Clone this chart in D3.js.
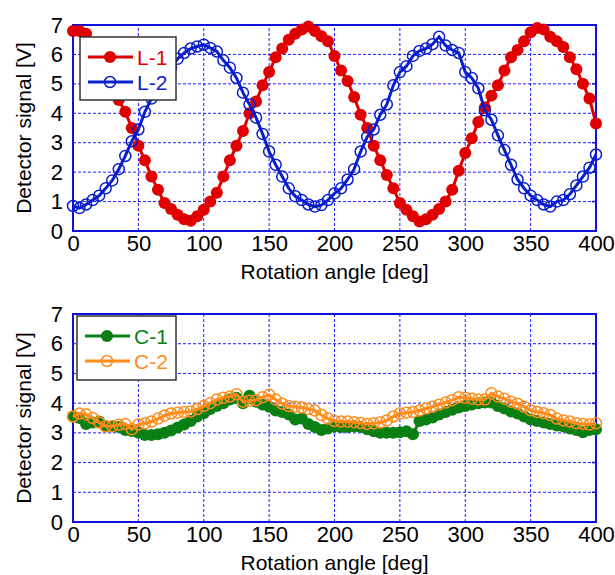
<!DOCTYPE html>
<html><head><meta charset="utf-8">
<script src="https://cdn.jsdelivr.net/npm/d3@7"></script>
<style>body{margin:0;background:#fff}svg{display:block}text{font-family:"Liberation Sans",Arial,sans-serif}</style>
</head><body>
<svg id="c" width="615" height="575"></svg>
<script>
const angles = d3.range(0, 401, 5);
const xTicks = [0,50,100,150,200,250,300,350,400];
const yTicks = [0,1,2,3,4,5,6,7];

const L1 = [6.8,6.8,6.7,6.4,6.0,5.5,5.0,4.45,4.05,3.5,2.9,2.4,1.85,1.4,0.95,0.75,0.55,0.4,0.35,0.5,0.72,1.0,1.3,1.85,2.4,2.9,3.4,4.0,4.4,4.95,5.4,5.9,6.2,6.5,6.7,6.85,6.95,6.8,6.62,6.45,5.95,5.45,5.1,4.55,3.95,3.5,2.9,2.4,1.9,1.45,0.95,0.72,0.5,0.32,0.4,0.55,0.75,1.0,1.4,2.05,2.65,3.15,3.7,4.2,4.6,4.95,5.45,5.9,6.15,6.45,6.75,6.9,6.85,6.6,6.45,6.25,5.9,5.5,5.0,4.5,3.65];
const L2 = [0.85,0.78,0.9,1.05,1.2,1.45,1.72,2.1,2.55,3.05,3.45,4.05,4.5,4.9,5.25,5.55,5.85,6.05,6.2,6.27,6.33,6.22,6.1,5.8,5.55,5.2,4.7,4.3,3.85,3.3,2.7,2.25,1.85,1.45,1.18,1.05,0.9,0.83,0.88,1.05,1.28,1.45,1.75,2.1,2.7,3.2,3.45,3.95,4.3,4.95,5.4,5.6,5.95,6.12,6.2,6.35,6.6,6.3,6.15,6.05,5.4,5.2,4.85,4.1,3.78,3.25,2.75,2.25,1.75,1.45,1.2,1.05,0.9,0.83,1.0,1.05,1.25,1.55,1.85,2.15,2.6];
const C1 = [3.55,3.5,3.3,3.35,3.38,3.22,3.22,3.2,3.1,3.06,3.0,2.93,2.93,2.95,3.0,3.08,3.18,3.28,3.4,3.55,3.66,3.8,3.9,4.0,4.12,4.18,4.0,4.25,4.05,3.95,3.88,3.75,3.7,3.62,3.45,3.48,3.3,3.2,3.1,3.15,3.22,3.2,3.2,3.22,3.2,3.12,3.05,3.0,3.0,3.0,3.02,3.05,2.95,3.4,3.45,3.52,3.62,3.7,3.78,3.85,3.9,3.95,4.0,4.02,4.02,3.9,3.82,3.72,3.65,3.55,3.45,3.4,3.35,3.3,3.25,3.22,3.15,3.1,3.02,3.1,3.12];
const C2 = [3.55,3.65,3.62,3.5,3.35,3.22,3.22,3.27,3.3,3.12,3.28,3.32,3.38,3.48,3.58,3.65,3.68,3.7,3.72,3.8,3.9,4.0,4.12,4.18,4.22,4.3,4.05,4.08,4.1,4.2,4.28,4.12,3.98,3.9,3.88,3.85,3.8,3.75,3.6,3.48,3.4,3.38,3.38,3.36,3.33,3.3,3.32,3.35,3.42,3.55,3.65,3.68,3.7,3.75,3.82,3.88,3.95,4.02,4.1,4.2,4.18,4.15,4.12,4.12,4.33,4.22,4.15,4.05,3.98,3.88,3.76,3.7,3.66,3.6,3.48,3.42,3.38,3.32,3.3,3.28,3.32];

const svg = d3.select("#c");
const FONT = 21;
const TFONT = 22;

function panel(top, bottom, series, legendBox) {
  const x = d3.scaleLinear().domain([0,400]).range([73,596]);
  const y = d3.scaleLinear().domain([0,7]).range([bottom, top]);
  const g = svg.append("g");
  // grid
  g.append("g").selectAll("line").data(xTicks.slice(1,-1)).join("line")
    .attr("x1", d=>x(d)).attr("x2", d=>x(d)).attr("y1", y(0)).attr("y2", y(7))
    .attr("stroke","#1a1aff").attr("stroke-width",1).attr("stroke-dasharray","3,2");
  g.append("g").selectAll("line").data(yTicks.slice(1,-1)).join("line")
    .attr("x1", x(0)).attr("x2", x(400)).attr("y1", d=>y(d)).attr("y2", d=>y(d))
    .attr("stroke","#1a1aff").attr("stroke-width",1).attr("stroke-dasharray","3,2");
  // axes
  const ax = g.append("g").attr("transform",`translate(0,${y(0)})`)
    .call(d3.axisBottom(x).tickValues(xTicks).tickFormat(d3.format("d")).tickSize(0).tickPadding(4));
  ax.select(".domain").remove();
  ax.selectAll("text").attr("font-size",TFONT).attr("fill","#000").attr("dy","0.72em")
    .style("font-family","Liberation Sans, Arial, sans-serif");
  const ay = g.append("g").attr("transform",`translate(${x(0)},0)`)
    .call(d3.axisLeft(y).tickValues(yTicks).tickFormat(d3.format("d")).tickSize(0).tickPadding(10));
  ay.select(".domain").remove();
  ay.selectAll("text").attr("font-size",TFONT).attr("fill","#000")
    .style("font-family","Liberation Sans, Arial, sans-serif");
  // right-side small ticks
  g.append("g").selectAll("line").data(yTicks).join("line")
    .attr("x1", x(400)-4).attr("x2", x(400)).attr("y1", d=>y(d)).attr("y2", d=>y(d))
    .attr("stroke","#1010dd").attr("stroke-width",1.5);
  // frame
  g.append("rect").attr("x",x(0)).attr("y",y(7)).attr("width",x(400)-x(0)).attr("height",y(0)-y(7))
    .attr("fill","none").attr("stroke","#1010dd").attr("stroke-width",2);
  // titles
  g.append("text").attr("x",(x(0)+x(400))/2).attr("y",y(0)+48).attr("text-anchor","middle")
    .attr("font-size",FONT).text("Rotation angle [deg]");
  g.append("text").attr("transform",`translate(31,${(y(0)+y(7))/2}) rotate(-90)`).attr("text-anchor","middle")
    .attr("font-size",FONT).text("Detector signal [V]");
  // series
  series.forEach(s => {
    const pts = angles.map((a,i)=>[a, s.values[i]]);
    g.append("path").datum(pts)
      .attr("d", d3.line().x(d=>x(d[0])).y(d=>y(d[1])))
      .attr("fill","none").attr("stroke",s.color).attr("stroke-width",3);
    g.append("g").selectAll("circle").data(pts).join("circle")
      .attr("cx", d=>x(d[0])).attr("cy", d=>y(d[1]))
      .attr("r", s.filled ? 6 : 5.5)
      .attr("fill", s.filled ? s.color : "none")
      .attr("stroke", s.color).attr("stroke-width", s.filled ? 0 : 1.5);
  });
  // legend
  const lb = legendBox;
  g.append("rect").attr("x",lb.x).attr("y",lb.y).attr("width",lb.w).attr("height",lb.h)
    .attr("fill","#fff").attr("stroke","#333").attr("stroke-width",1.5);
  series.forEach((s,i) => {
    const cy = lb.y + 20 + i*25;
    g.append("line").attr("x1",lb.x+8).attr("x2",lb.x+53).attr("y1",cy).attr("y2",cy)
      .attr("stroke",s.color).attr("stroke-width",3);
    g.append("circle").attr("cx",lb.x+30).attr("cy",cy).attr("r", s.filled?6:5.5)
      .attr("fill", s.filled ? s.color : "none").attr("stroke",s.color).attr("stroke-width", s.filled?0:1.5);
    g.append("text").attr("x",lb.x+57).attr("y",cy).attr("dy","0.36em")
      .attr("font-size",FONT).attr("fill",s.color).text(s.name);
  });
}

panel(25, 231, [
  {name:"L-1", values:L1, color:"#e00000", filled:true},
  {name:"L-2", values:L2, color:"#0a1ecc", filled:false}
], {x:80, y:37, w:96, h:63});

panel(314, 522, [
  {name:"C-1", values:C1, color:"#0a7f14", filled:true},
  {name:"C-2", values:C2, color:"#ff8c1a", filled:false}
], {x:77, y:316, w:99, h:64});
</script>
</body></html>
